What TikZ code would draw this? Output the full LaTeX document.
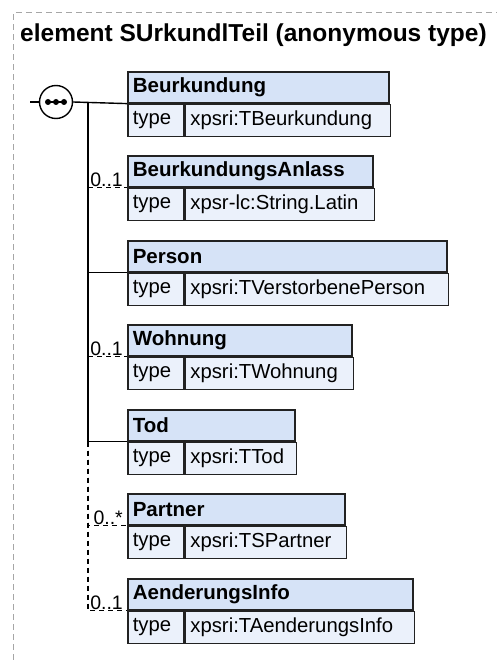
\documentclass[tikz,border=0pt]{standalone}
\usepackage{fontspec}
\setmainfont{Liberation Sans}
\usetikzlibrary{positioning}

% colours of the element boxes
\definecolor{hdrblue}{RGB}{214,227,247}
\definecolor{rowblue}{RGB}{235,241,251}
\definecolor{edgegray}{RGB}{34,34,34}

\tikzset{
  hdr/.style={draw=edgegray, fill=hdrblue, line width=1.6pt, inner xsep=5pt,
    minimum height=31pt, align=left, font=\fontsize{20.5}{23}\selectfont\bfseries},
  typekey/.style={draw=edgegray, fill=rowblue, line width=1.6pt, inner xsep=5pt,
    minimum height=32pt, text width=46pt, align=left, font=\fontsize{20.3}{23}\selectfont},
  typeval/.style={typekey},
  conn/.style={line width=1.4pt},
  opt/.style={line width=1.4pt, dash pattern=on 5pt off 4pt},
  mult/.style={inner sep=1pt, anchor=south east, font=\fontsize{19.5}{21}\selectfont}
}

% element box: name, top y, right x, title, type
\newcommand\elembox[5]{%
  \pgfmathsetmacro\hdrw{#3-127-10}
  \pgfmathsetmacro\valw{#3-183-10}
  \node[hdr, text width=\hdrw pt, anchor=north west] (#1) at (127,#2) {#4};
  \node[typekey, anchor=north west] (#1k) at (#1.south west) {type};
  \node[typeval, text width=\valw pt, anchor=north west] (#1v) at (#1k.north east) {#5};
}

\begin{document}
\begin{tikzpicture}[x=1pt, y=-1pt, line cap=butt]
  \useasboundingbox (0,0) rectangle (497,660);

  % outer frame of the element
  \draw[gray!70, line width=1pt, dash pattern=on 6pt off 4pt] (13,660) -- (13,13) -- (497,13);
  \node[anchor=base west, inner sep=0pt, font=\fontsize{24.5}{28}\selectfont\bfseries]
    (title) at (20,42) {element SUrkundlTeil (anonymous type)};

  % the element boxes
  \elembox{beurk}{71}{388}{Beurkundung}{xpsri:TBeurkundung}
  \elembox{anlass}{155}{372}{BeurkundungsAnlass}{xpsr-lc:String.Latin}
  \elembox{person}{240}{446}{Person}{xpsri:TVerstorbenePerson}
  \elembox{wohn}{324}{351}{Wohnung}{xpsri:TWohnung}
  \elembox{tod}{409}{294}{Tod}{xpsri:TTod}
  \elembox{partner}{493}{344}{Partner}{xpsri:TSPartner}
  \elembox{aend}{578}{412}{AenderungsInfo}{xpsri:TAenderungsInfo}

  % sequence symbol
  \node[draw, circle, fill=white, line width=1.4pt, minimum size=33pt, inner sep=0pt] (seq) at (56,102) {};
  \coordinate (in) at (30,102);
  \coordinate (t0) at (88,102);
  \draw[conn] (in) -- (seq.west);
  \draw[line width=1.4pt] (48,102) -- (64,102);
  \foreach \dx in {48,56,64}
    \fill (\dx,102) circle (3pt);

  % connectors
  \draw[conn] (seq.east) -- (beurk.south west);
  \draw[conn] (t0) |- (tod.south west);
  \draw[conn] (t0) |- (person.south west);
  \draw[opt] (anlass.south west -| t0) -- (anlass.south west);
  \draw[opt] (wohn.south west -| t0) -- (wohn.south west);
  \draw[opt] (tod.south west -| t0) |- (partner.south west);
  \draw[opt] (tod.south west -| t0) |- (aend.south west);

  % occurrences
  \node[mult] (m1) at ([xshift=-3pt]anlass.south west) {0..1};
  \node[mult] (m2) at ([xshift=-3pt]wohn.south west) {0..1};
  \node[mult] (m3) at ([xshift=-3pt]partner.south west) {0..*};
  \node[mult] (m4) at ([xshift=-3pt]aend.south west) {0..1};
\end{tikzpicture}
\end{document}
